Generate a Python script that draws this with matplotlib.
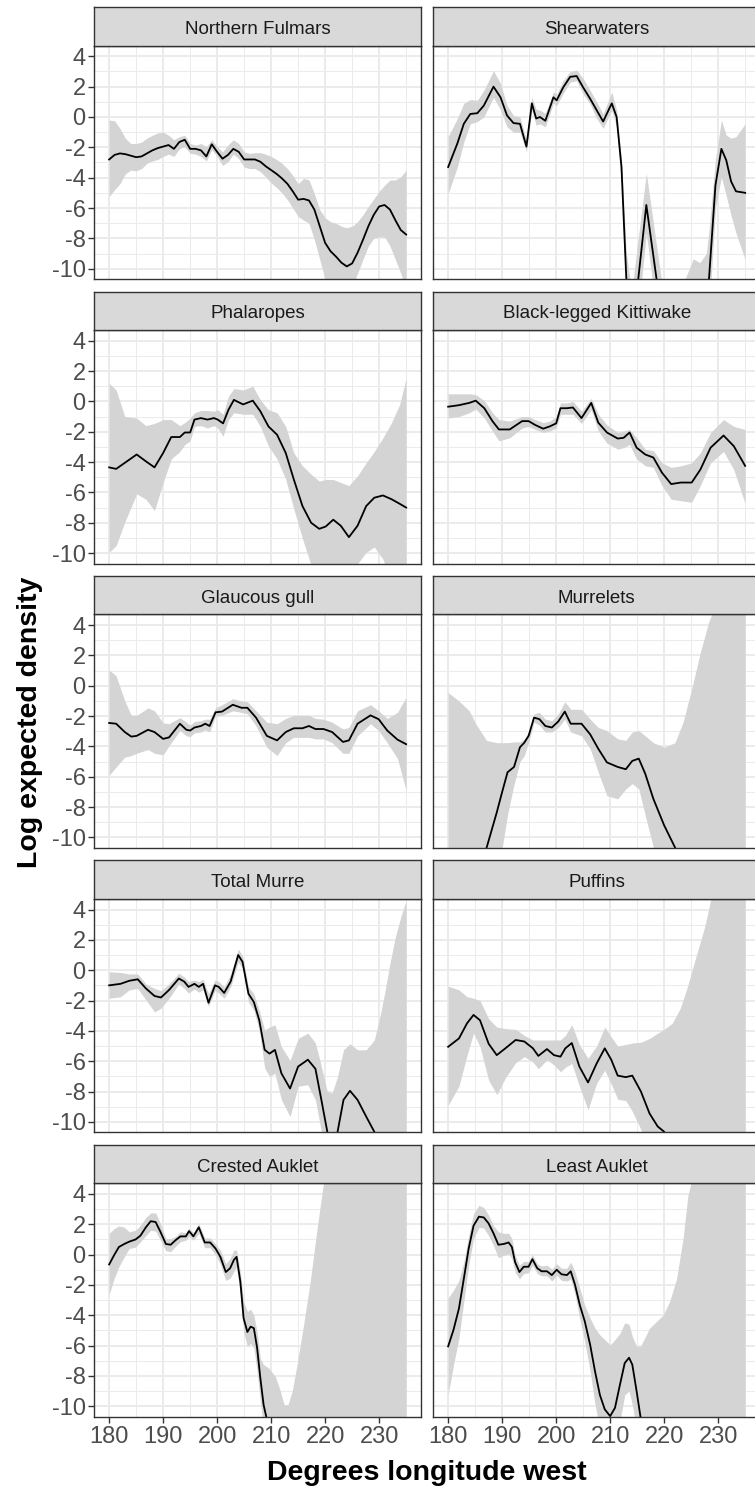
import matplotlib
matplotlib.use("Agg")
import matplotlib.pyplot as plt
from matplotlib.ticker import MultipleLocator

plt.rcParams['font.family'] = ['Liberation Sans', 'DejaVu Sans']
plt.rcParams['axes.unicode_minus'] = False

# ---- data (fit, lower and upper band) ----
fulmar_x = list(range(180, 236))
fulmar_fit = [-2.8, -2.5, -2.4, -2.45, -2.55, -2.65, -2.6, -2.4, -2.2, -2.05,
              -1.95, -1.85, -2.1, -1.65, -1.5, -2.1, -2.1, -2.2, -2.6, -1.8,
              -2.3, -2.75, -2.5, -2.1, -2.3, -2.8, -2.8, -2.8, -2.95, -3.25,
              -3.5, -3.75, -4.05, -4.4, -4.9, -5.45, -5.4, -5.5, -6.1, -7.2,
              -8.3, -8.85, -9.2, -9.6, -9.85, -9.65, -8.95, -8.1, -7.2, -6.45,
              -5.9, -5.8, -6.1, -6.8, -7.45, -7.75]
fulmar_hi = [-0.2, -0.25, -0.75, -1.4, -1.75, -1.75, -1.65, -1.4, -1.2, -1.05,
             -1.0, -1.2, -1.5, -1.3, -1.2, -1.75, -1.85, -1.75, -1.95, -1.5,
             -1.95, -2.3, -1.85, -1.5, -1.75, -2.3, -2.4, -2.35, -2.35, -2.45,
             -2.6, -2.8, -3.05, -3.4, -3.85, -4.4, -4.05, -4.15, -5.05, -6.1,
             -6.65, -6.9, -7.0, -7.2, -7.3, -7.2, -6.9, -6.45, -5.9, -5.4,
             -4.9, -4.5, -4.15, -4.15, -3.95, -3.5]
fulmar_lo = [-5.25, -4.8, -4.4, -3.75, -3.5, -3.55, -3.4, -3.05, -2.9, -2.8,
             -2.6, -2.45, -2.6, -2.1, -1.95, -2.4, -2.45, -2.6, -2.9, -2.15,
             -2.6, -3.2, -2.95, -2.45, -2.75, -3.3, -3.4, -3.4, -3.6, -3.95,
             -4.35, -4.65, -5.0, -5.45, -6.0, -6.55, -6.8, -7.0, -8.1, -9.4,
             -10.7, -11.6, -12.0, -12.0, -11.6, -11.2, -10.3, -9.4, -8.5, -8.0,
             -7.9, -7.9, -8.5, -9.4, -10.3, -11.4]

shear_x = [180, 181.7, 182.9, 184.1, 185.4, 186.6, 188.4, 189.7, 190.9, 192.1,
           193.3, 194.5, 195.5, 196.3, 197.0, 198.0, 199.5, 200.1, 201.3, 202.6,
           203.8, 205.0, 206.3, 207.5, 208.7, 210.3, 211.2, 212.1, 213.0, 214.0,
           215.2, 216.7, 218.6, 220.0, 223.5, 225.4, 226.6, 227.8, 228.3, 229.5,
           230.6, 231.5, 232.4, 233.3, 235.0]
shear_fit = [-3.3, -1.75, -0.45, 0.2, 0.25, 0.75, 2.0, 1.3, 0.1, -0.4,
             -0.45, -1.95, 0.9, -0.1, 0.0, -0.25, 1.3, 1.1, 1.95, 2.65,
             2.7, 1.95, 1.2, 0.45, -0.3, 0.9, 0.0, -3.3, -10.7, -14,
             -10.7, -5.8, -10.7, -14, -16, -16, -16, -14, -10.7, -4.5,
             -2.1, -2.85, -4.25, -4.9, -5.0]
shear_hi = [-1.3, -0.1, 0.9, 1.15, 1.1, 1.75, 3.05, 2.2, 0.75, 0.1,
            0.0, -1.55, 1.3, 0.5, 0.45, 0.25, 1.65, 1.5, 2.4, 3.0,
            3.1, 2.55, 1.75, 1.0, 0.2, 1.65, 0.45, -2.85, -9.0, -11.5,
            -8.0, -3.7, -8.5, -12, -11, -9.35, -9.6, -9.0, -7.5, -2.8,
            -0.2, -1.2, -1.4, -1.3, -0.45]
shear_lo = [-5.05, -3.3, -1.65, -0.45, -0.3, 0.0, 1.3, 0.45, -0.65, -1.0,
            -1.0, -2.3, 0.45, -0.55, -0.45, -0.65, 0.9, 0.75, 1.55, 2.3,
            2.4, 1.5, 0.85, -0.1, -0.75, 0.45, -0.65, -4.5, -12, -16,
            -13, -7.65, -13, -16, -16, -16, -16, -16, -13, -6.0,
            -3.95, -5.2, -6.5, -7.65, -9.4]

phal_x = [180, 181.3, 182.9, 185.1, 186.8, 188.4, 190.0, 191.5, 193.1, 194.0,
          195.0, 195.8, 197.0, 198.2, 199.4, 200.1, 201.1, 202.1, 203.1, 204.8,
          206.6, 208.0, 209.5, 211.1, 212.7, 214.2, 215.8, 217.4, 218.9, 220.1,
          221.5, 222.9, 224.4, 226.0, 227.6, 229.1, 230.7, 232.3, 233.8, 235.0]
phal_fit = [-4.35, -4.45, -4.05, -3.5, -3.95, -4.35, -3.4, -2.35, -2.35, -2.05,
            -2.05, -1.2, -1.1, -1.2, -1.1, -1.2, -1.45, -0.55, 0.1, -0.2,
            0.05, -0.65, -1.65, -2.2, -3.4, -5.15, -6.9, -8.0, -8.4, -8.25,
            -7.8, -8.2, -8.95, -8.2, -6.9, -6.35, -6.2, -6.45, -6.75, -7.0]
phal_hi = [1.2, 0.75, -1.0, -1.1, -1.6, -1.45, -1.2, -1.2, -1.6, -1.4,
           -1.1, -0.75, -0.6, -0.6, -0.65, -0.55, -0.85, 0.35, 0.85, 0.75,
           1.0, 0.1, -0.55, -0.75, -1.65, -3.4, -4.25, -4.8, -5.25, -5.15,
           -5.15, -5.35, -5.55, -4.9, -4.05, -3.3, -2.4, -1.4, -0.2, 1.55]
phal_lo = [-9.95, -9.5, -7.95, -6.1, -6.45, -7.2, -5.35, -3.8, -3.3, -2.85,
           -2.6, -1.65, -1.6, -1.75, -1.6, -1.75, -2.3, -1.2, -0.75, -0.85,
           -0.85, -1.65, -2.95, -3.8, -5.15, -7.1, -9.05, -10.8, -12, -13,
           -13, -13, -12, -10.7, -9.95, -9.6, -10.4, -12, -13, -14]

kitti_x = [180, 182.0, 183.9, 185.1, 186.7, 188.2, 189.4, 191.4, 193.7, 194.9,
           196.1, 197.6, 198.8, 200.0, 200.8, 202.0, 203.1, 204.7, 206.5, 207.8,
           209.4, 211.4, 212.5, 213.6, 214.9, 216.5, 218.0, 219.6, 221.3, 223.1,
           225.1, 226.7, 228.6, 231.0, 232.9, 235.0]
kitti_fit = [-0.35, -0.25, -0.1, 0.05, -0.45, -1.3, -1.85, -1.85, -1.3, -1.3,
             -1.55, -1.8, -1.65, -1.45, -0.45, -0.45, -0.4, -1.1, -0.1, -1.4,
             -2.05, -2.45, -2.4, -2.05, -3.05, -3.5, -3.7, -4.7, -5.45, -5.35,
             -5.35, -4.5, -3.05, -2.25, -2.95, -4.25]
kitti_hi = [0.5, 0.5, 0.5, 0.45, 0.05, -0.75, -1.2, -1.3, -1.0, -1.0,
            -1.2, -1.4, -1.3, -1.0, -0.1, -0.1, 0.0, -0.65, 0.2, -0.85,
            -1.55, -2.05, -1.95, -1.85, -2.4, -3.15, -3.25, -4.05, -4.35, -4.25,
            -4.05, -3.4, -2.05, -1.2, -1.65, -1.85]
kitti_lo = [-1.1, -1.0, -0.75, -0.5, -1.1, -1.95, -2.6, -2.4, -1.75, -1.65,
            -1.85, -2.05, -1.95, -1.75, -0.85, -0.85, -0.85, -1.45, -0.55, -1.95,
            -2.75, -3.15, -3.05, -2.85, -3.8, -4.25, -4.35, -5.55, -6.45, -6.55,
            -6.65, -5.55, -4.05, -3.3, -4.5, -6.75]

gull_x = [180, 181.3, 182.9, 184.1, 185.1, 187.2, 188.4, 190.0, 191.1, 193.1,
          194.3, 195.0, 195.8, 197.0, 197.8, 198.6, 199.7, 200.9, 202.9, 204.5,
          205.6, 207.2, 209.2, 211.1, 212.7, 214.2, 215.8, 217.0, 218.2, 219.7,
          221.3, 223.3, 224.4, 226.0, 228.4, 229.9, 231.5, 233.4, 235.0]
gull_fit = [-2.45, -2.5, -3.05, -3.35, -3.3, -2.9, -3.05, -3.5, -3.4, -2.5,
            -2.9, -2.95, -2.75, -2.65, -2.5, -2.65, -1.75, -1.7, -1.25, -1.45,
            -1.45, -2.1, -3.3, -3.6, -3.05, -2.8, -2.8, -2.65, -2.85, -2.85,
            -3.05, -3.7, -3.6, -2.5, -1.95, -2.2, -2.95, -3.55, -3.85]
gull_hi = [1.05, 0.65, -1.0, -1.95, -1.95, -1.45, -1.65, -2.45, -2.5, -2.1,
           -2.4, -2.6, -2.35, -2.3, -2.2, -2.2, -1.45, -1.25, -0.85, -1.0,
           -1.05, -1.65, -2.4, -2.5, -2.15, -1.95, -1.95, -1.95, -2.15, -2.2,
           -2.4, -2.85, -2.75, -1.65, -1.25, -1.65, -2.15, -1.75, -0.75]
gull_lo = [-5.9, -5.35, -4.7, -4.6, -4.45, -4.2, -4.45, -4.55, -3.95, -2.95,
           -3.3, -3.35, -3.1, -3.05, -2.9, -3.05, -2.0, -1.95, -1.65, -1.75,
           -1.85, -2.65, -4.05, -4.6, -3.75, -3.4, -3.4, -3.4, -3.5, -3.5,
           -3.75, -4.45, -4.45, -3.3, -2.5, -2.95, -3.75, -4.8, -6.9]

murrelet_x = [180, 182.0, 183.9, 185.1, 187.1, 189.0, 190.0, 191.0, 192.2, 193.3,
              194.1, 194.9, 195.9, 196.9, 198.0, 199.2, 200.4, 201.6, 202.7, 204.7,
              206.3, 207.8, 209.4, 211.4, 212.9, 214.1, 215.3, 216.5, 218.0, 220.0,
              222.0, 223.5, 225.1, 226.7, 228.2, 229.4, 235.0]
murrelet_fit = [-20, -17, -14.5, -13, -10.7, -8.35, -7.0, -5.7, -5.35, -4.05,
                -3.75, -3.3, -2.1, -2.2, -2.65, -2.75, -2.35, -1.7, -2.5, -2.5,
                -3.2, -4.15, -5.05, -5.35, -5.5, -4.95, -4.8, -5.8, -7.45, -9.2,
                -10.65, -12, -13, -14, -15, -16, -20]
murrelet_hi = [-0.45, -1.0, -1.65, -2.5, -3.6, -3.75, -3.75, -3.75, -3.7, -3.7,
               -3.5, -3.05, -1.85, -1.75, -2.2, -2.3, -1.85, -1.05, -1.55, -1.55,
               -2.2, -2.75, -2.95, -3.5, -3.6, -3.05, -2.95, -3.3, -3.75, -4.05,
               -3.75, -2.4, -0.2, 2.2, 4.15, 5.25, 9.0]
murrelet_lo = [-25, -22, -20, -18, -14, -12, -10.7, -8.5, -6.5, -5.0,
               -4.6, -3.75, -2.4, -2.6, -3.05, -3.05, -2.75, -2.2, -3.05, -3.3,
               -4.15, -5.7, -7.25, -7.45, -6.8, -6.45, -6.8, -8.55, -10.65, -13,
               -15, -16, -17, -18, -19, -20, -25]

murre_x = [180, 182.1, 183.7, 185.3, 186.8, 188.4, 189.6, 191.1, 192.9, 193.9,
           194.7, 195.8, 196.6, 197.4, 198.4, 199.6, 200.3, 201.3, 202.5, 203.9,
           204.7, 205.8, 206.8, 207.8, 208.8, 209.7, 210.7, 211.9, 213.5, 215.0,
           216.8, 218.2, 219.3, 220.4, 221.3, 222.3, 223.4, 224.6, 226.0, 227.6,
           229.1, 230.0, 231.0, 232.0, 233.0, 234.0, 235.0]
murre_fit = [-1.0, -0.9, -0.7, -0.6, -1.2, -1.7, -1.8, -1.3, -0.55, -0.75,
             -1.1, -0.9, -1.1, -0.9, -2.15, -1.0, -1.1, -1.5, -0.75, 1.0,
             0.55, -1.55, -2.1, -3.3, -5.25, -5.5, -5.25, -6.8, -7.8, -6.35,
             -5.9, -6.5, -8.55, -10.65, -13, -10.65, -8.55, -7.95, -8.55, -9.65,
             -10.65, -12, -13, -14, -15, -16, -17]
murre_hi = [-0.1, -0.15, -0.25, -0.25, -0.9, -1.2, -1.35, -0.9, -0.2, -0.45,
            -0.75, -0.65, -0.75, -0.6, -1.55, -0.65, -0.75, -1.1, -0.25, 1.4,
            0.95, -1.1, -1.55, -2.65, -3.95, -3.75, -3.6, -5.05, -5.95, -4.5,
            -4.15, -4.8, -6.35, -8.0, -8.1, -7.0, -5.25, -4.85, -5.25, -5.25,
            -4.6, -3.3, -1.55, 0.45, 2.2, 3.5, 4.6]
murre_lo = [-1.85, -1.75, -1.3, -1.2, -1.95, -2.75, -2.5, -1.85, -0.9, -1.2,
            -1.5, -1.25, -1.45, -1.3, -2.4, -1.35, -1.5, -1.85, -1.1, 0.55,
            0.1, -2.1, -2.65, -3.95, -6.45, -7.0, -6.8, -8.55, -9.65, -7.65,
            -7.55, -8.55, -10.65, -13, -14, -14, -13, -13, -14, -15,
            -16, -16, -17, -17, -18, -18, -19]

puffin_x = [180, 182.0, 183.5, 184.7, 185.9, 187.5, 189.0, 190.6, 192.5, 194.1,
            195.7, 196.7, 198.3, 199.6, 200.8, 201.7, 202.9, 204.3, 205.9, 207.5,
            209.0, 210.2, 211.4, 212.9, 214.1, 215.7, 217.3, 218.8, 220.0, 221.5,
            223.0, 224.3, 225.9, 227.5, 228.6, 235.0]
puffin_fit = [-5.05, -4.5, -3.5, -2.95, -3.3, -4.85, -5.6, -5.15, -4.6, -4.7,
              -5.15, -5.65, -5.2, -5.6, -5.7, -5.15, -4.8, -6.35, -7.4, -6.15,
              -5.15, -5.9, -6.95, -7.05, -6.95, -8.0, -9.45, -10.3, -10.65, -12,
              -13, -14, -15, -16, -17, -22]
puffin_hi = [-1.05, -1.3, -1.75, -1.85, -2.0, -3.2, -3.75, -3.85, -3.9, -4.3,
             -4.6, -4.6, -4.6, -4.6, -4.6, -4.3, -3.6, -4.9, -5.8, -5.0,
             -3.75, -4.4, -5.0, -4.9, -4.8, -4.75, -4.5, -4.15, -3.9, -3.5,
             -2.5, -1.1, 0.9, 2.85, 4.6, 9.0]
puffin_lo = [-8.9, -7.65, -5.6, -4.15, -5.05, -7.25, -8.2, -7.1, -6.1, -5.7,
             -6.05, -6.5, -5.9, -6.25, -6.7, -6.4, -6.15, -7.65, -9.2, -7.45,
             -6.6, -7.5, -8.5, -8.6, -9.3, -10.5, -12, -13, -14, -15,
             -16, -17, -18, -19, -20, -25]

crested_x = [180, 180.9, 181.8, 182.8, 183.7, 184.9, 185.8, 186.8, 187.7, 188.6,
             189.5, 190.5, 191.4, 192.3, 193.2, 194.2, 194.8, 195.6, 196.6, 197.7,
             198.7, 199.7, 200.6, 201.6, 202.4, 203.1, 203.6, 204.3, 204.9, 205.6,
             206.2, 206.8, 207.4, 208.0, 208.6, 209.6, 210.8, 211.7, 212.4, 213.1,
             213.9, 214.8, 216.0, 217.3, 218.5, 219.7, 220.9, 235.0]
crested_fit = [-0.65, -0.05, 0.5, 0.7, 0.85, 1.0, 1.25, 1.8, 2.2, 2.15,
               1.5, 0.7, 0.65, 0.95, 1.2, 1.2, 1.55, 1.2, 1.8, 0.8,
               0.8, 0.4, -0.15, -1.15, -0.9, -0.35, -0.15, -1.8, -4.2, -5.1,
               -4.75, -4.85, -6.15, -8.15, -9.9, -11.5, -13, -14, -15, -16,
               -17, -18, -19, -20, -21, -22, -23, -30]
crested_hi = [1.4, 1.7, 1.9, 1.8, 1.5, 1.6, 1.95, 2.45, 2.75, 2.75,
              2.05, 1.05, 1.05, 1.2, 1.5, 1.45, 1.75, 1.45, 2.05, 1.1,
              1.1, 0.7, 0.3, -0.6, -0.25, 0.3, 0.3, -1.15, -3.1, -3.75,
              -3.6, -4.0, -5.1, -6.85, -7.25, -7.5, -8.05, -9.0, -9.9, -9.9,
              -9.0, -7.25, -4.65, -1.6, 1.7, 4.75, 7.6, 30]
crested_lo = [-2.65, -1.6, -0.8, -0.15, 0.4, 0.5, 0.85, 1.25, 1.6, 1.55,
              0.95, 0.25, 0.2, 0.55, 0.85, 0.95, 1.2, 0.95, 1.4, 0.45,
              0.45, 0.0, -0.65, -1.7, -1.55, -1.1, -0.8, -2.65, -5.1, -6.05,
              -5.85, -6.15, -7.7, -9.65, -11.5, -13, -14, -15, -16, -17,
              -18, -19, -20, -21, -22, -23, -24, -30]

least_x = [180, 181.0, 182.0, 182.9, 183.8, 184.7, 185.7, 186.6, 187.5, 188.4,
           189.3, 190.3, 191.2, 191.8, 192.4, 193.2, 194.0, 194.9, 195.6, 196.5,
           197.3, 198.3, 199.2, 200.1, 201.0, 202.0, 202.7, 203.5, 204.4, 205.3,
           206.3, 207.2, 208.1, 209.0, 210.0, 210.9, 211.8, 212.7, 213.5, 214.1,
           214.9, 215.6, 216.4, 217.3, 218.6, 219.8, 221.0, 222.3, 223.5, 224.4,
           225.0, 225.9, 235.0]
least_fit = [-6.05, -4.95, -3.55, -1.6, 0.4, 1.9, 2.5, 2.45, 2.05, 1.4,
             0.65, 0.7, 0.8, 0.5, -0.5, -1.15, -0.8, -0.8, -0.3, -0.9,
             -1.1, -1.1, -1.35, -1.0, -1.3, -1.35, -1.1, -2.0, -3.35, -4.4,
             -5.95, -7.7, -9.25, -10.2, -10.65, -10.1, -8.6, -7.15, -6.8, -7.25,
             -9.0, -10.65, -12, -13, -14, -15, -16, -17, -18, -19,
             -19.5, -20, -25]
least_hi = [-2.85, -2.35, -1.7, -0.5, 1.25, 2.7, 3.25, 3.1, 2.6, 1.9,
            1.5, 1.4, 1.4, 1.05, -0.05, -0.7, -0.45, -0.45, 0.0, -0.6,
            -0.75, -0.7, -0.95, -0.6, -0.9, -0.9, -0.5, -1.15, -2.25, -3.35,
            -4.2, -4.85, -5.3, -5.6, -5.95, -5.6, -5.2, -4.5, -4.6, -5.4,
            -6.05, -6.05, -5.5, -4.85, -4.4, -4.0, -3.1, -1.6, 1.05, 3.9,
            4.75, 6.5, 25]
least_lo = [-9.25, -7.25, -5.5, -3.1, -0.7, 1.05, 1.8, 1.75, 1.25, 0.6,
            -0.2, -0.05, 0.05, -0.25, -1.15, -1.6, -1.25, -1.2, -0.7, -1.25,
            -1.4, -1.4, -1.75, -1.35, -1.7, -1.75, -1.6, -2.65, -4.3, -5.75,
            -7.7, -9.9, -11.5, -13, -13, -12, -11, -9.25, -9.0, -9.9,
            -11.5, -13, -14, -15, -16, -17, -18, -19, -20, -21,
            -22, -23, -30]

panels = [
    ("Northern Fulmars", fulmar_x, fulmar_fit, fulmar_lo, fulmar_hi),
    ("Shearwaters", shear_x, shear_fit, shear_lo, shear_hi),
    ("Phalaropes", phal_x, phal_fit, phal_lo, phal_hi),
    ("Black-legged Kittiwake", kitti_x, kitti_fit, kitti_lo, kitti_hi),
    ("Glaucous gull", gull_x, gull_fit, gull_lo, gull_hi),
    ("Murrelets", murrelet_x, murrelet_fit, murrelet_lo, murrelet_hi),
    ("Total Murre", murre_x, murre_fit, murre_lo, murre_hi),
    ("Puffins", puffin_x, puffin_fit, puffin_lo, puffin_hi),
    ("Crested Auklet", crested_x, crested_fit, crested_lo, crested_hi),
    ("Least Auklet", least_x, least_fit, least_lo, least_hi),
]

# ---- layout (pixels), right column runs off the canvas like the original ----
W, H = 755, 1491
fig = plt.figure(figsize=(W / 100, H / 100), dpi=100)

pw, ph, sh = 326.7, 233.6, 38.4
dark = '#333333'

for i, (name, x, fit, lo, hi) in enumerate(panels):
    r, c = divmod(i, 2)
    top = 7.3 + r * 284.4
    sb = top + sh
    pb = sb + ph
    left = 94.3 + c * 339.0

    ax = fig.add_axes([left / W, 1 - pb / H, pw / W, ph / H])
    ax.fill_between(x, lo, hi, color='#D4D4D4', lw=0)
    ax.plot(x, fit, color='black', lw=1.3)
    ax.set_xlim(177.25, 237.75)
    ax.set_ylim(-10.7, 4.7)
    ax.xaxis.set_major_locator(MultipleLocator(10))
    ax.xaxis.set_minor_locator(MultipleLocator(5))
    ax.yaxis.set_major_locator(MultipleLocator(2))
    ax.yaxis.set_minor_locator(MultipleLocator(1))
    ax.set_axisbelow(True)
    ax.grid(which='major', color='#EBEBEB', lw=1.4)
    ax.grid(which='minor', color='#EBEBEB', lw=0.7)
    ax.tick_params(which='minor', length=0)
    ax.tick_params(which='major', length=4.3, width=1.0, color=dark,
                   labelsize=17, labelcolor='#4D4D4D', pad=2)
    if c != 0:
        ax.tick_params(left=False, labelleft=False)
    if r != 4:
        ax.tick_params(bottom=False, labelbottom=False)
    for s in ax.spines.values():
        s.set_color(dark)
        s.set_linewidth(1.0)

    # facet strip
    sax = fig.add_axes([left / W, 1 - sb / H, pw / W, sh / H])
    sax.set_facecolor('#D9D9D9')
    sax.set_xticks([])
    sax.set_yticks([])
    for s in sax.spines.values():
        s.set_color(dark)
        s.set_linewidth(1.0)
    sax.text(0.5, 0.305, name, ha='center', va='baseline', fontsize=13.5,
             color='#1A1A1A', transform=sax.transAxes)

fig.text(30 / W, 1 - 722 / H, 'Log expected density', rotation=90,
         ha='center', va='center', fontsize=20.5, fontweight='bold')
fig.text(427 / W, 1 - 1473 / H, 'Degrees longitude west',
         ha='center', va='center', fontsize=20.5, fontweight='bold')

fig.savefig('out.png', dpi=100)
